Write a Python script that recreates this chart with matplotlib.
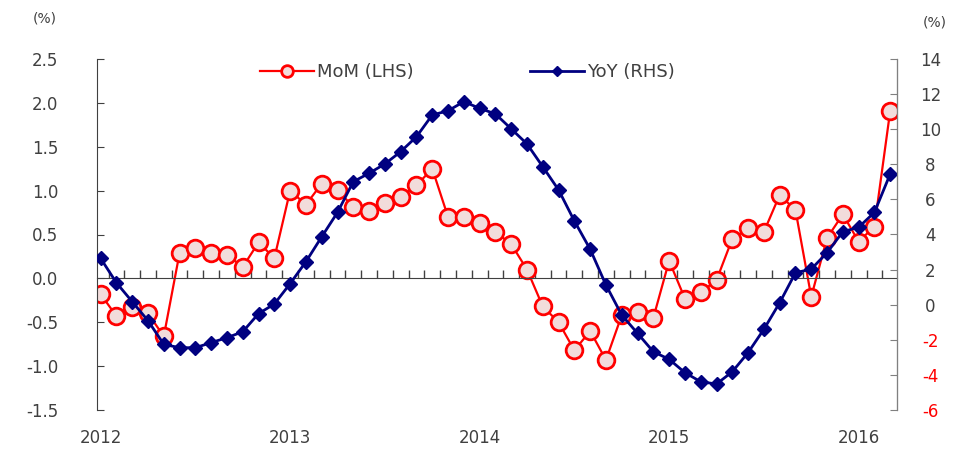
import matplotlib
matplotlib.use("Agg")
import matplotlib.pyplot as plt
import numpy as np

plt.rcParams["font.family"] = ["DejaVu Sans"]
plt.rcParams["axes.unicode_minus"] = False

# monthly, Jan 2012 .. Mar 2016
mom = [-0.18, -0.43, -0.33, -0.40, -0.66, 0.29, 0.35, 0.29, 0.27, 0.13, 0.41, 0.23,
       1.00, 0.84, 1.08, 1.01, 0.81, 0.77, 0.86, 0.93, 1.06, 1.25, 0.70, 0.70,
       0.63, 0.53, 0.39, 0.10, -0.32, -0.50, -0.82, -0.60, -0.93, -0.42, -0.38, -0.45,
       0.20, -0.23, -0.16, -0.02, 0.45, 0.57, 0.53, 0.95, 0.78, -0.21, 0.46, 0.73,
       0.42, 0.59, 1.91]
yoy = [2.64, 1.25, 0.17, -0.91, -2.26, -2.45, -2.45, -2.16, -1.88, -1.54, -0.51, 0.04,
       1.20, 2.45, 3.87, 5.26, 7.01, 7.49, 8.02, 8.72, 9.57, 10.81, 11.05, 11.57,
       11.19, 10.87, 10.02, 9.16, 7.86, 6.54, 4.77, 3.16, 1.12, -0.59, -1.63, -2.68,
       -3.11, -3.87, -4.39, -4.52, -3.82, -2.73, -1.40, 0.11, 1.82, 2.03, 2.96, 4.16,
       4.41, 5.26, 7.45]
years = ["2012", "2013", "2014", "2015", "2016"]

RED = "#ff0000"
NAVY = "#000080"
TXT = "#404040"

x = np.arange(len(mom))

fig = plt.figure(figsize=(9.62, 4.53), dpi=100)
ax = fig.add_axes([97 / 962, 1 - 410 / 453, 800 / 962, 351 / 453])
ax2 = ax.twinx()

l1, = ax.plot(x, mom, color=RED, lw=1.6, marker="o", ms=12,
              mfc="#f2dcdb", mec=RED, mew=2, label="MoM (LHS)")
l2, = ax2.plot(x, yoy, color=NAVY, lw=2, marker="D", ms=7,
               mfc=NAVY, mec=NAVY, label="YoY (RHS)")

ax.set_xlim(-0.23, len(mom) - 1 + 0.43)
ax.set_ylim(-1.5, 2.5)
ax2.set_ylim(-6, 14)
ax.set_yticks(np.arange(-1.5, 2.51, 0.5))
ax.set_yticklabels([f"{v:.1f}" for v in np.arange(-1.5, 2.51, 0.5)])
ax2.set_yticks(np.arange(-6, 15, 2))

# zero line with month ticks between points
for a in (ax, ax2):
    a.spines["top"].set_visible(False)
    a.spines["bottom"].set_visible(False)
ax.spines["bottom"].set_visible(True)
ax.spines["bottom"].set_position(("data", 0))
ax.spines["bottom"].set_color("#404040")
ax.set_xticks(x[:-1] + 0.5)
ax.tick_params(axis="x", direction="in", length=6, width=1,
               color="#404040", labelbottom=False)
for i, yr in enumerate(years):
    ax.text(i * 12, -0.08, yr, transform=ax.get_xaxis_transform(),
            ha="center", va="center", fontsize=12, color=TXT)

ax.spines["left"].set_color("#404040")
ax2.spines["right"].set_color("#808080")
ax2.spines["left"].set_visible(False)
ax.tick_params(axis="y", direction="in", length=5, labelsize=12,
               labelcolor=TXT, color="#404040", pad=28)
ax2.tick_params(axis="y", direction="in", length=5, labelsize=12,
                labelcolor=TXT, color="#808080", pad=24)
for lab, v in zip(ax2.get_yticklabels(), np.arange(-6, 15, 2)):
    if v < 0:
        lab.set_color(RED)
    lab.set_horizontalalignment("center")

fig.text(45 / 962, 1 - 18 / 453, "(%)", fontsize=10, color=TXT, ha="center", va="center")
fig.text(935 / 962, 1 - 23 / 453, "(%)", fontsize=10, color=TXT, ha="center", va="center")

leg = ax2.legend([l1, l2], ["MoM (LHS)", "YoY (RHS)"], loc="center",
                 bbox_to_anchor=(0.463, 0.963), ncol=2, frameon=False,
                 fontsize=13, columnspacing=6.4, handlelength=3.0,
                 handletextpad=0.2, markerscale=0.7)
for t in leg.get_texts():
    t.set_color(TXT)

fig.savefig("out.png", dpi=100)
